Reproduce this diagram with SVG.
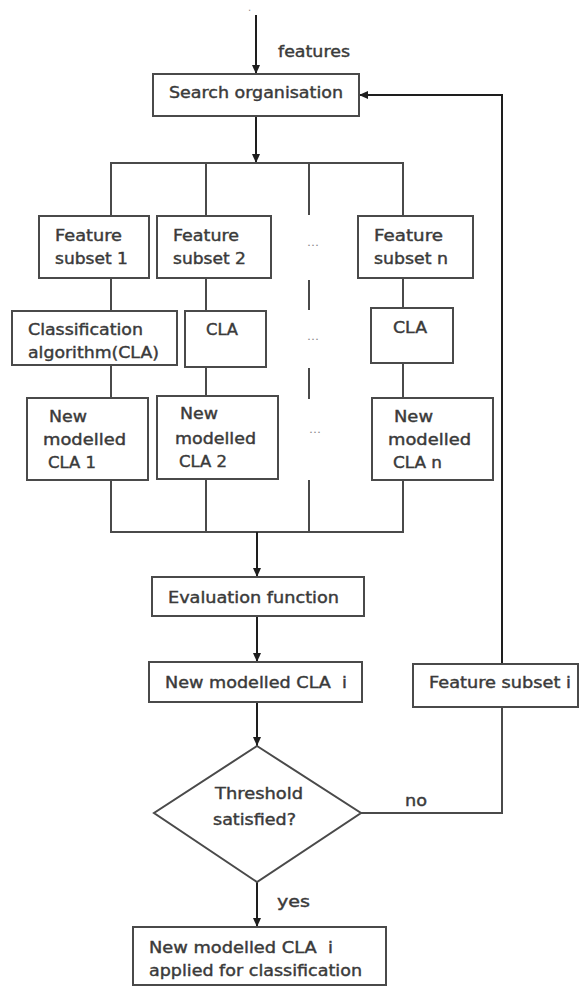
<svg xmlns="http://www.w3.org/2000/svg" width="580" height="987" viewBox="0 0 580 987">
<style>
.bg{fill:#ffffff}
.box{fill:#ffffff;stroke:#4a4a4a;stroke-width:2}
.t{font-family:"DejaVu Sans","Liberation Sans",sans-serif;font-size:15px;fill:#3a3a3a;stroke:#3a3a3a;stroke-width:0.4}
.ln{fill:none;stroke:#4a4a4a;stroke-width:2}
.ar{fill:none;stroke:#1e1e1e;stroke-width:2;marker-end:url(#ah)}
.dots{font-family:"DejaVu Sans","Liberation Sans",sans-serif;font-size:10px;fill:#8a8a8a}
</style>
<defs>
<marker id="ah" markerWidth="10" markerHeight="10" refX="9" refY="5" orient="auto" markerUnits="userSpaceOnUse">
<path d="M0,1 L9,5 L0,9 z" fill="#1e1e1e"/>
</marker>
</defs>
<rect class="bg" x="0" y="0" width="580" height="987"/>
<text class="dots" x="248" y="11">.</text>

<g id="connectors">
<path class="ar" d="M256,15 V74"/>
<path class="ar" d="M256,116 V163"/>
<path class="ln" d="M111,216 V163 H403 V216"/>
<path class="ln" d="M206,163 V216"/>
<path class="ln" d="M309,163 V215 M309,280 V310 M309,368 V399 M309,480 V532"/>
<path class="ln" d="M111,278 V311 M206,278 V311 M403,278 V308"/>
<path class="ln" d="M111,365 V398 M206,367 V396 M403,363 V398"/>
<path class="ln" d="M111,480 V532 H403 V480 M206,479 V532"/>
<path class="ar" d="M257,532 V577"/>
<path class="ar" d="M257,616 V662"/>
<path class="ar" d="M257,702 V746"/>
<path class="ar" d="M257,882 V927"/>
<path class="ln" d="M361,813 H502 V707"/>
<path class="ar" d="M502,664 V95 H359"/>
<text class="t" x="278" y="57" textLength="72" lengthAdjust="spacingAndGlyphs">features</text>
<text class="t" x="405" y="806" textLength="22" lengthAdjust="spacingAndGlyphs">no</text>
<text class="t" x="277" y="907" textLength="33" lengthAdjust="spacingAndGlyphs">yes</text>
<text class="dots" x="307" y="246" textLength="12" lengthAdjust="spacingAndGlyphs">...</text>
<text class="dots" x="307" y="340" textLength="12" lengthAdjust="spacingAndGlyphs">...</text>
<text class="dots" x="309" y="433" textLength="12" lengthAdjust="spacingAndGlyphs">...</text>
</g>

<g id="search">
<rect class="box" x="153" y="74" width="206" height="42"/>
<text class="t" x="169" y="98" textLength="174" lengthAdjust="spacingAndGlyphs">Search organisation</text>
</g>

<g id="fs1">
<rect class="box" x="39" y="216" width="110" height="62"/>
<text class="t" x="55" y="241" textLength="67" lengthAdjust="spacingAndGlyphs">Feature</text>
<text class="t" x="55" y="264" textLength="73" lengthAdjust="spacingAndGlyphs">subset 1</text>
</g>
<g id="fs2">
<rect class="box" x="157" y="216" width="114" height="62"/>
<text class="t" x="173" y="241" textLength="66" lengthAdjust="spacingAndGlyphs">Feature</text>
<text class="t" x="173" y="264" textLength="73" lengthAdjust="spacingAndGlyphs">subset 2</text>
</g>
<g id="fsn">
<rect class="box" x="358" y="216" width="115" height="62"/>
<text class="t" x="374" y="241" textLength="69" lengthAdjust="spacingAndGlyphs">Feature</text>
<text class="t" x="374" y="264" textLength="74" lengthAdjust="spacingAndGlyphs">subset n</text>
</g>

<g id="cla1">
<rect class="box" x="12" y="311" width="165" height="54"/>
<text class="t" x="28" y="335" textLength="115" lengthAdjust="spacingAndGlyphs">Classification</text>
<text class="t" x="28" y="358" textLength="131" lengthAdjust="spacingAndGlyphs">algorithm(CLA)</text>
</g>
<g id="cla2">
<rect class="box" x="185" y="311" width="81" height="56"/>
<text class="t" x="206" y="335" textLength="32" lengthAdjust="spacingAndGlyphs">CLA</text>
</g>
<g id="clan">
<rect class="box" x="371" y="308" width="82" height="55"/>
<text class="t" x="393" y="333" textLength="34" lengthAdjust="spacingAndGlyphs">CLA</text>
</g>

<g id="nm1">
<rect class="box" x="27" y="398" width="121" height="82"/>
<text class="t" x="49" y="422" textLength="38" lengthAdjust="spacingAndGlyphs">New</text>
<text class="t" x="43" y="445" textLength="83" lengthAdjust="spacingAndGlyphs">modelled</text>
<text class="t" x="48" y="468" textLength="48" lengthAdjust="spacingAndGlyphs">CLA 1</text>
</g>
<g id="nm2">
<rect class="box" x="157" y="396" width="121" height="83"/>
<text class="t" x="180" y="419" textLength="38" lengthAdjust="spacingAndGlyphs">New</text>
<text class="t" x="175" y="444" textLength="81" lengthAdjust="spacingAndGlyphs">modelled</text>
<text class="t" x="179" y="467" textLength="48" lengthAdjust="spacingAndGlyphs">CLA 2</text>
</g>
<g id="nmn">
<rect class="box" x="372" y="398" width="121" height="82"/>
<text class="t" x="394" y="422" textLength="39" lengthAdjust="spacingAndGlyphs">New</text>
<text class="t" x="388" y="445" textLength="83" lengthAdjust="spacingAndGlyphs">modelled</text>
<text class="t" x="393" y="468" textLength="49" lengthAdjust="spacingAndGlyphs">CLA n</text>
</g>

<g id="eval">
<rect class="box" x="152" y="577" width="212" height="39"/>
<text class="t" x="168" y="603" textLength="171" lengthAdjust="spacingAndGlyphs">Evaluation function</text>
</g>
<g id="nmi">
<rect class="box" x="149" y="662" width="213" height="40"/>
<text class="t" x="165" y="688" textLength="182" lengthAdjust="spacingAndGlyphs" xml:space="preserve">New modelled CLA  i</text>
</g>
<g id="fsi">
<rect class="box" x="413" y="664" width="165" height="43"/>
<text class="t" x="429" y="688" textLength="142" lengthAdjust="spacingAndGlyphs">Feature subset i</text>
</g>
<g id="threshold">
<path class="box" d="M257,746 L361,813 L257,882 L154,813 Z"/>
<text class="t" x="215" y="799" textLength="88" lengthAdjust="spacingAndGlyphs">Threshold</text>
<text class="t" x="213" y="825" textLength="83" lengthAdjust="spacingAndGlyphs">satisfied?</text>
</g>
<g id="final">
<rect class="box" x="133" y="927" width="253" height="58"/>
<text class="t" x="149" y="953" textLength="184" lengthAdjust="spacingAndGlyphs" xml:space="preserve">New modelled CLA  i</text>
<text class="t" x="149" y="976" textLength="213" lengthAdjust="spacingAndGlyphs">applied for classification</text>
</g>
</svg>
